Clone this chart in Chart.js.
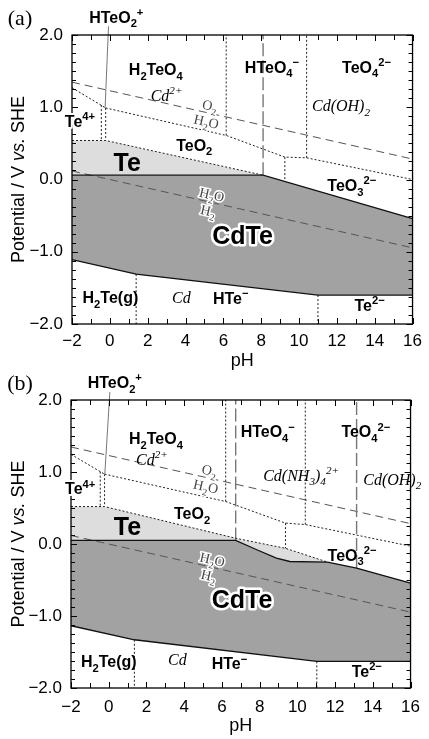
<!DOCTYPE html>
<html><head><meta charset="utf-8">
<script src="https://cdn.jsdelivr.net/npm/chart.js@4.4.1/dist/chart.umd.min.js"></script>
<style>
html,body{margin:0;padding:0;background:#fff;}
#wrap{position:relative;width:429px;height:739px;overflow:hidden;background:#fff;}
#chartA{position:absolute;left:0;top:0;}
#chartB{position:absolute;left:0;top:365px;}
</style></head><body>
<div id="wrap">
<canvas id="chartA" width="429" height="375"></canvas>
<canvas id="chartB" width="429" height="374"></canvas>
</div>
<script>
// ---------- tick labels ----------
const pHTicks = [-2, 0, 2, 4, 6, 8, 10, 12, 14, 16];
const potentialTicks = [-2, -1, 0, 1, 2];

// ---------- water stability lines (pH, V) ----------
const o2Line = [[-2, 1.347], [16, 0.283]];
const h2Line = [[-2, 0.118], [16, -0.946]];

// ---------- panel (a) ----------
const a_cdteTop = [[-2, 0.06], [8.1, 0.06], [16, -0.54]];
const a_cdteBottom = [[-2, -1.11], [1.39, -1.31], [11.0, -1.60], [16, -1.60]];
const a_teTop = [[-2, 0.54], [-0.22, 0.54], [8.1, 0.06]];
const a_te4Top = [[-2, 1.27], [-0.22, 0.99]];
const a_teo2Top = [[-0.22, 0.99], [6.15, 0.61], [9.25, 0.31], [10.4, 0.30], [16, 0.0]];
// [pH, from V, to V]
const a_dottedVerticals = [[-0.45, 1.03, 0.54], [-0.22, 0.99, 0.54], [6.15, 0.61, 2], [9.25, 0.31, -0.027], [10.4, 0.30, 2], [1.39, -1.31, -2], [11.0, -1.60, -2]];
const a_cdVerticals = [[8.1, 0.06, 2]];
const a_leader = [[-0.07, 2.12], [-0.25, 0.99]];

// ---------- panel (b) ----------
const b_cdteTop = [[-2, 0.05], [6.73, 0.05], [7.85, -0.08], [8.89, -0.195], [9.6, -0.243], [11.6, -0.251], [13.14, -0.334], [16, -0.542]];
const b_cdteBottom = [[-2, -1.135], [1.36, -1.33], [11.03, -1.63], [16, -1.63]];
const b_teTop = [[-2, 0.52], [-0.22, 0.52], [6.73, 0.08], [9.37, -0.06], [11.6, -0.251]];
const b_te4Top = [[-2, 1.245], [-0.22, 0.97]];
const b_teo2Top = [[-0.22, 0.97], [6.2, 0.59], [9.37, 0.29], [10.42, 0.27], [16, -0.03]];
const b_dottedVerticals = [[-0.45, 1.005, 0.52], [-0.22, 0.97, 0.52], [6.2, 0.59, 2], [9.37, 0.29, -0.06], [10.42, 0.27, 2], [1.36, -1.33, -2], [11.03, -1.63, -2]];
const b_cdVerticals = [[6.73, 0.05, 2], [13.14, -0.334, 2]];
const b_leader = [[0.06, 2.11], [-0.21, 0.96]];

// ---------- region labels: [text, pH, V, style] ----------
const a_labels = [
  ['HTeO_2^+', 0.34, 2.25, 'chem'],
  ['H_2TeO_4', 2.43, 1.53, 'chem'],
  ['HTeO_4^−', 8.57, 1.56, 'chem'],
  ['TeO_4^{2−}', 13.57, 1.56, 'chem'],
  ['Cd^{2+}', 3.0, 1.17, 'ital'],
  ['Cd(OH)_2', 12.22, 1.03, 'ital'],
  ['Te^{4+}', -1.58, 0.81, 'chemHalo'],
  ['TeO_2', 4.46, 0.48, 'chem'],
  ['Te', 0.92, 0.24, 'big'],
  ['TeO_3^{2−}', 12.79, -0.08, 'chem'],
  ['CdTe', 7.01, -0.77, 'bigHalo'],
  ['H_2Te(g)', 0.03, -1.63, 'chem'],
  ['Cd', 3.78, -1.63, 'ital'],
  ['HTe^−', 6.39, -1.64, 'chem'],
  ['Te^{2−}', 13.73, -1.74, 'chem']
];
const b_labels = [
  ['HTeO_2^+', 0.32, 2.25, 'chem'],
  ['H_2TeO_4', 2.5, 1.47, 'chem'],
  ['HTeO_4^−', 8.43, 1.56, 'chem'],
  ['TeO_4^{2−}', 13.63, 1.56, 'chem'],
  ['Cd^{2+}', 2.29, 1.18, 'ital'],
  ['Cd(NH_3)_4^{2+}', 10.2, 0.96, 'ital'],
  ['Cd(OH)_2', 15.03, 0.905, 'ital'],
  ['Te^{4+}', -1.51, 0.77, 'chemHalo'],
  ['TeO_2', 4.42, 0.43, 'chem'],
  ['Te', 0.99, 0.25, 'big'],
  ['TeO_3^{2−}', 12.9, -0.15, 'chem'],
  ['CdTe', 7.07, -0.77, 'bigHalo'],
  ['H_2Te(g)', 0.0, -1.63, 'chem'],
  ['Cd', 3.64, -1.60, 'ital'],
  ['HTe^−', 6.4, -1.66, 'chem'],
  ['Te^{2−}', 13.68, -1.77, 'chem']
];
// fraction labels on water lines: [upper, lower, pH, line]
const a_fracs = [['O_2', 'H_2O', 5.2, o2Line], ['H_2O', 'H_2', 5.3, h2Line]];
const b_fracs = [['O_2', 'H_2O', 5.25, o2Line], ['H_2O', 'H_2', 5.4, h2Line]];

// ---------- styles ----------
const fontSans = "'Liberation Sans', Arial, Helvetica, sans-serif";
const fontSerif = "'Liberation Serif', 'Times New Roman', serif";
const STY = {
  chem: {size: 16, weight: 'bold', family: fontSans, color: '#000'},
  chemHalo: {size: 16, weight: 'bold', family: fontSans, color: '#000', halo: '#fff', haloW: 4},
  ital: {size: 16, style: 'italic', family: fontSerif, color: '#000'},
  big: {size: 25, weight: 'bold', family: fontSans, color: '#000'},
  bigHalo: {size: 25, weight: 'bold', family: fontSans, color: '#000', halo: '#fff', haloW: 5},
  frac: {size: 14, family: fontSerif, color: '#444', halo: '#fff', haloW: 3}
};

function parseRich(s) {
  const runs = []; let i = 0;
  while (i < s.length) {
    const c = s[i];
    if (c === '_' || c === '^') {
      let t;
      if (s[i + 1] === '{') { const j = s.indexOf('}', i); t = s.slice(i + 2, j); i = j + 1; }
      else { t = s[i + 1]; i += 2; }
      runs.push({t, mode: c === '_' ? 'sub' : 'sup'});
    } else {
      let j = i; while (j < s.length && s[j] !== '_' && s[j] !== '^') j++;
      runs.push({t: s.slice(i, j), mode: 'n'}); i = j;
    }
  }
  return runs;
}
function drawRich(ctx, s, x, y, st) {
  const runs = parseRich(s);
  let w = 0;
  runs.forEach(r => {
    r.sz = r.mode === 'n' ? st.size : st.size * 0.7;
    r.font = `${st.style || 'normal'} ${st.weight || 'normal'} ${r.sz}px ${st.family}`;
    ctx.font = r.font;
    r.w = ctx.measureText(r.t).width;
    r.dy = r.mode === 'sub' ? st.size * 0.3 : (r.mode === 'sup' ? -st.size * 0.42 : 0);
    w += r.w;
  });
  const base = y + st.size * 0.36;
  ctx.textAlign = 'left'; ctx.textBaseline = 'alphabetic';
  const pass = halo => {
    let cx = x - w / 2;
    runs.forEach(r => {
      ctx.font = r.font;
      if (halo) ctx.strokeText(r.t, cx, base + r.dy); else ctx.fillText(r.t, cx, base + r.dy);
      cx += r.w;
    });
  };
  if (st.halo) { ctx.save(); ctx.strokeStyle = st.halo; ctx.lineWidth = st.haloW; ctx.lineJoin = 'round'; pass(true); ctx.restore(); }
  ctx.fillStyle = st.color; pass(false);
}

function toXY(arr) { return arr.map(p => ({x: p[0], y: p[1]})); }

function buildDatasets(P) {
  const ds = [];
  const base = {pointRadius: 0, pointHoverRadius: 0, tension: 0, borderWidth: 1, fill: false, spanGaps: true};
  // fills (index 0,1,2)
  ds.push({...base, data: toXY(P.cdteTop), fill: 1, backgroundColor: '#a2a2a2', borderColor: 'rgba(0,0,0,0)', order: 20});
  ds.push({...base, data: toXY(P.cdteBottom), backgroundColor: 'rgba(0,0,0,0)', borderColor: 'rgba(0,0,0,0)', order: 21});
  ds.push({...base, data: toXY(P.teTop), fill: 0, backgroundColor: '#dddddd', borderColor: 'rgba(0,0,0,0)', order: 19});
  // water lines
  [o2Line, h2Line].forEach(l => ds.push({...base, data: toXY(l), borderColor: '#555', borderDash: [8, 5], order: 8}));
  // Cd species boundaries
  P.cdVerticals.forEach(v => ds.push({...base, data: toXY([[v[0], v[1]], [v[0], v[2]]]), borderColor: '#777', borderWidth: 1.4, borderDash: [13, 4], order: 7}));
  // Te species boundaries (dotted)
  [P.te4Top, P.teo2Top, P.teTop].forEach(l => ds.push({...base, data: toXY(l), borderColor: '#222', borderDash: [2, 2], order: 6}));
  P.dottedVerticals.forEach(v => ds.push({...base, data: toXY([[v[0], v[1]], [v[0], v[2]]]), borderColor: '#222', borderDash: [2, 2], order: 6}));
  // CdTe boundaries
  [P.cdteTop, P.cdteBottom].forEach(l => ds.push({...base, data: toXY(l), borderColor: '#111', borderWidth: 1.3, order: 5}));
  // leader line for HTeO2+
  ds.push({...base, data: toXY(P.leader), borderColor: '#777', borderWidth: 1, clip: false, order: 4});
  return ds;
}

const decor = {
  id: 'decor',
  afterDraw(chart) {
    const G = chart.options.plugins.decor;
    const {ctx, chartArea: a, scales: {x, y}} = chart;
    ctx.save();
    // inner ticks
    ctx.strokeStyle = '#000'; ctx.lineWidth = 1;
    ctx.beginPath();
    for (let v = -2; v <= 16; v += 1) {
      const px = Math.round(x.getPixelForValue(v)) + 0.5;
      const L = (v % 2 === 0) ? 6 : 5;
      ctx.moveTo(px, a.bottom); ctx.lineTo(px, a.bottom - L);
      ctx.moveTo(px, a.top); ctx.lineTo(px, a.top + L);
    }
    for (let i = 0; i <= 32; i++) {
      const v = -2 + i * 0.125;
      const py = Math.round(y.getPixelForValue(v)) + 0.5;
      const L = (i % 8 === 0) ? 6 : 4;
      ctx.moveTo(a.left, py); ctx.lineTo(a.left + L, py);
      ctx.moveTo(a.right, py); ctx.lineTo(a.right - L, py);
    }
    ctx.stroke();
    ctx.lineWidth = 1.3;
    ctx.strokeRect(a.left, a.top, a.right - a.left, a.bottom - a.top);

    // fraction labels along water lines
    G.fracs.forEach(f => {
      const l = f[3];
      const x1 = x.getPixelForValue(l[0][0]), y1 = y.getPixelForValue(l[0][1]);
      const x2 = x.getPixelForValue(l[1][0]), y2 = y.getPixelForValue(l[1][1]);
      const ang = Math.atan2(y2 - y1, x2 - x1);
      const vAt = l[0][1] + (l[1][1] - l[0][1]) * (f[2] - l[0][0]) / (l[1][0] - l[0][0]);
      ctx.save();
      ctx.translate(x.getPixelForValue(f[2]), y.getPixelForValue(vAt));
      ctx.rotate(ang);
      drawRich(ctx, f[0], 0, -8, STY.frac);
      drawRich(ctx, f[1], 0, 8.5, STY.frac);
      ctx.restore();
    });
    // region labels
    G.labels.forEach(L => drawRich(ctx, L[0], x.getPixelForValue(L[1]), y.getPixelForValue(L[2]), STY[L[3]]));

    // panel letter
    ctx.fillStyle = '#000';
    ctx.font = `22px ${fontSerif}`;
    ctx.textAlign = 'center'; ctx.textBaseline = 'alphabetic';
    ctx.fillText(G.letter, 20, 25);

    // x title
    ctx.font = `18px ${fontSans}`;
    ctx.fillText('pH', (a.left + a.right) / 2, G.xTitleBase);

    // y title with italic "vs."
    const runs = [
      {t: 'Potential / V ', f: `normal 18px ${fontSans}`},
      {t: 'vs.', f: `italic 18px ${fontSans}`},
      {t: ' SHE', f: `normal 18px ${fontSans}`}
    ];
    let w = 0;
    runs.forEach(r => { ctx.font = r.f; r.w = ctx.measureText(r.t).width; w += r.w; });
    ctx.save();
    ctx.translate(24, (a.top + a.bottom) / 2);
    ctx.rotate(-Math.PI / 2);
    ctx.textAlign = 'left';
    let cx = -w / 2;
    runs.forEach(r => { ctx.font = r.f; ctx.fillText(r.t, cx, 0); cx += r.w; });
    ctx.restore();
    ctx.restore();
  }
};

function fmtNum(v, d) {
  const s = Math.abs(v).toFixed(d);
  return (v < 0 ? '\u2212' : '') + s;
}

function makeChart(id, P, G) {
  return new Chart(document.getElementById(id), {
    type: 'line',
    data: {datasets: buildDatasets(P)},
    options: {
      responsive: false, animation: false, devicePixelRatio: 1,
      layout: {padding: {top: G.padTop, right: G.padRight, left: 0, bottom: 0}},
      plugins: {legend: {display: false}, tooltip: {enabled: false}, decor: G},
      scales: {
        x: {
          type: 'linear', min: -2, max: 16,
          grid: {display: false, drawTicks: false}, border: {display: false},
          afterBuildTicks: s => { s.ticks = pHTicks.map(v => ({value: v})); },
          afterFit: s => { s.height = G.xHeight; },
          ticks: {color: '#000', padding: G.xPad, maxRotation: 0, autoSkip: false,
                  font: {family: fontSans, size: 17}, callback: v => fmtNum(v, 0)}
        },
        y: {
          type: 'linear', min: -2, max: 2,
          grid: {display: false, drawTicks: false}, border: {display: false},
          afterBuildTicks: s => { s.ticks = potentialTicks.map(v => ({value: v})); },
          afterFit: s => { s.width = G.yWidth; },
          ticks: {color: '#000', padding: 9, autoSkip: false,
                  font: {family: fontSans, size: 17}, callback: v => fmtNum(v, 1)}
        }
      }
    },
    plugins: [decor]
  });
}

makeChart('chartA',
  {cdteTop: a_cdteTop, cdteBottom: a_cdteBottom, teTop: a_teTop, te4Top: a_te4Top, teo2Top: a_teo2Top,
   dottedVerticals: a_dottedVerticals, cdVerticals: a_cdVerticals, leader: a_leader},
  {padTop: 35, padRight: 11, yWidth: 72, xHeight: 51, xPad: 7, xTitleBase: 366, letter: '(a)',
   labels: a_labels, fracs: a_fracs});

makeChart('chartB',
  {cdteTop: b_cdteTop, cdteBottom: b_cdteBottom, teTop: b_teTop, te4Top: b_te4Top, teo2Top: b_teo2Top,
   dottedVerticals: b_dottedVerticals, cdVerticals: b_cdVerticals, leader: b_leader},
  {padTop: 35, padRight: 12, yWidth: 71, xHeight: 51, xPad: 9, xTitleBase: 366, letter: '(b)',
   labels: b_labels, fracs: b_fracs});
</script>
</body></html>
